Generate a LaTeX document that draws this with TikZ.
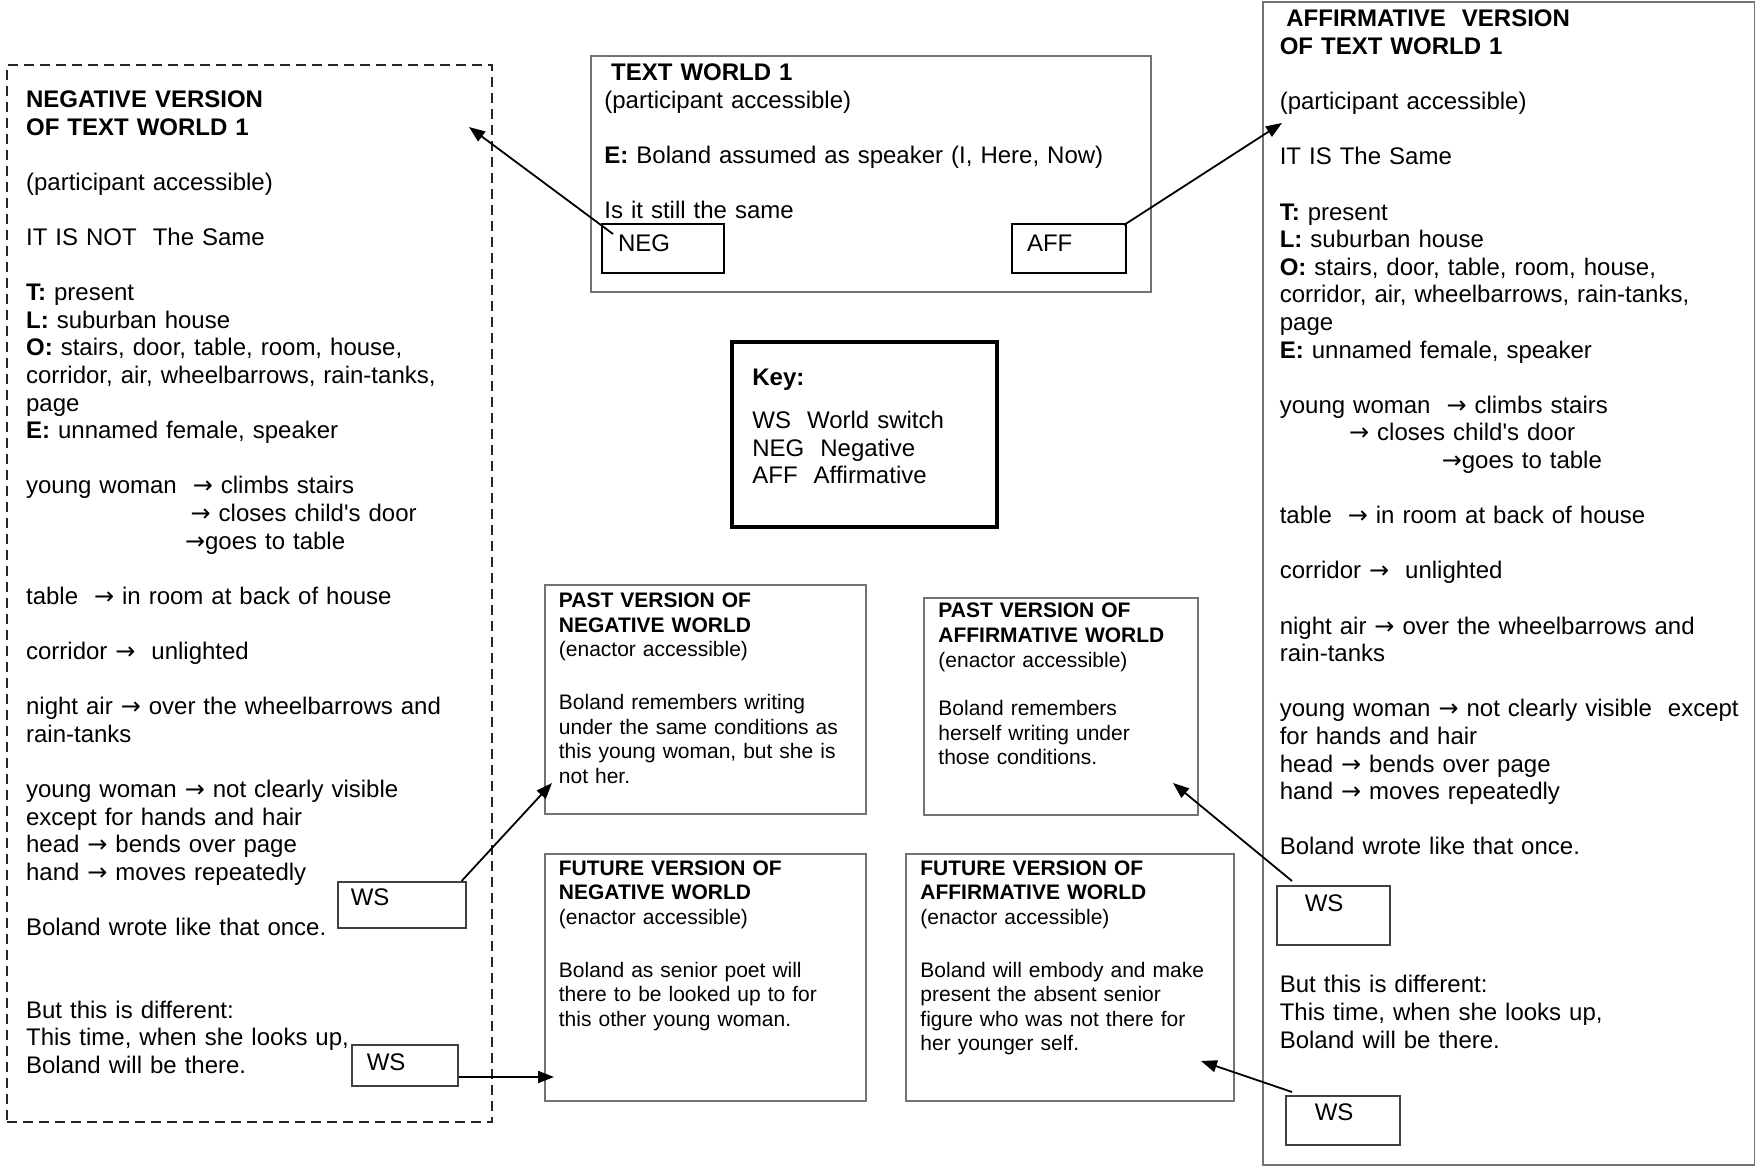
\documentclass[tikz,border=0pt]{standalone}
\usepackage{fontspec}
\setmainfont{Liberation Sans}
\newfontfamily\arrowfont{DejaVu Sans}
\usetikzlibrary{arrows.meta}

\newcommand{\skipline}{\\[13.8pt]}
\newcommand{\ra}{\makebox[10pt]{\arrowfont →}}

\tikzset{
  frame/.style={draw=black!55, line width=1pt, inner sep=0pt, anchor=north west},
  world/.style={inner sep=0pt, anchor=base west, text width=240pt, align=left,
    font=\fontsize{12}{13.8}\selectfont},
  small world/.style={world, text width=155pt, font=\fontsize{10.5}{12.3}\selectfont},
  tag/.style n args={4}{draw=black!75, line width=0.8pt, anchor=north west,
    inner ysep=0pt, inner xsep=#1, text width=#2, text height=#3, text depth=#4,
    align=left, font=\fontsize{12}{13.8}\selectfont},
  link/.style={-{Triangle[length=8pt,width=6pt]}, line width=0.9pt},
}

\begin{document}
\begin{tikzpicture}[x=0.5pt, y=-0.5pt]
  \useasboundingbox (0,0) rectangle (1755,1166);

  % frames
  \node[frame, draw=black!85, dash pattern=on 5pt off 3pt,
    minimum width=242.5pt, minimum height=528.5pt] (negf) at (6,64) {};
  \node[frame, minimum width=280pt, minimum height=118pt] (tw1f) at (590,55) {};
  \node[frame, draw=black, line width=2pt,
    minimum width=132.5pt, minimum height=92.5pt] (keyf) at (730,340) {};
  \node[frame, minimum width=160.5pt, minimum height=114.5pt] (pnegf) at (544,584) {};
  \node[frame, minimum width=137pt, minimum height=108.5pt] (pafff) at (923,597) {};
  \node[frame, minimum width=160.5pt, minimum height=123.5pt] (fnegf) at (544,853) {};
  \node[frame, minimum width=164pt, minimum height=123.5pt] (fafff) at (905,853) {};
  \node[frame, minimum width=246pt, minimum height=581.5pt] (afff) at (1262,1) {};

  % negative version
  \node[world, text width=235pt] (negt) at (25.7,107.5) {%
    \textbf{NEGATIVE VERSION}\\
    \textbf{OF TEXT WORLD 1}\skipline
    (participant accessible)\skipline
    IT IS NOT\ \ The Same\skipline
    \textbf{T:} present\\
    \textbf{L:} suburban house\\
    \textbf{O:} stairs, door, table, room, house,\\
    corridor, air, wheelbarrows, rain-tanks,\\
    page\\
    \textbf{E:} unnamed female, speaker\skipline
    young woman\ \ \ra\ climbs stairs\\
    \hspace*{82.3pt}\ra\ closes child\textquotesingle s door\\
    \hspace*{79.5pt}\ra goes to table\skipline
    table\ \ \ra\ in room at back of house\skipline
    corridor \ra\ \ unlighted\skipline
    night air \ra\ over the wheelbarrows and\\
    rain-tanks\skipline
    young woman \ra\ not clearly visible\\
    except for hands and hair\\
    head \ra\ bends over page\\
    hand \ra\ moves repeatedly\skipline
    Boland wrote like that once.\\[27.6pt]
    But this is different:\\
    This time, when she looks up,\\
    Boland will be there.};

  % text world 1
  \node[world, text width=270pt] (tw1t) at (604,80.5) {%
    \hspace*{3.4pt}\textbf{TEXT WORLD 1}\\
    (participant accessible)\skipline
    \textbf{E:} Boland assumed as speaker (I, Here, Now)\skipline
    Is it still the same};
  \node[tag={8pt}{45pt}{13.5pt}{11pt}, draw=black, line width=1pt] (negbox) at (601,223) {NEG};
  \node[tag={7.5pt}{42pt}{13.5pt}{11pt}, draw=black, line width=1pt] (affbox) at (1011,223) {AFF};

  % key
  \node[world, text width=120pt] (keyt) at (752,385) {%
    \textbf{Key:}\\[8pt]
    WS\ \ World switch\\
    NEG\ \ Negative\\
    AFF\ \ Affirmative};

  % enactor accessible worlds
  \node[small world] (pnegt) at (558.5,607.6) {%
    \textbf{PAST VERSION OF}\\
    \textbf{NEGATIVE WORLD}\\
    (enactor accessible)\\[14pt]
    Boland remembers writing\\
    under the same conditions as\\
    this young woman, but she is\\
    not her.};
  \node[small world] (pafft) at (938,617.8) {%
    \textbf{PAST VERSION OF}\\
    \textbf{AFFIRMATIVE WORLD}\\
    (enactor accessible)\\[12pt]
    Boland remembers\\
    herself writing under\\
    those conditions.};
  \node[small world] (fnegt) at (558.5,875.3) {%
    \textbf{FUTURE VERSION OF}\\
    \textbf{NEGATIVE WORLD}\\
    (enactor accessible)\\[14pt]
    Boland as senior poet will\\
    there to be looked up to for\\
    this other young woman.};
  \node[small world] (fafft) at (920,875.3) {%
    \textbf{FUTURE VERSION OF}\\
    \textbf{AFFIRMATIVE WORLD}\\
    (enactor accessible)\\[14pt]
    Boland will embody and make\\
    present the absent senior\\
    figure who was not there for\\
    her younger self.};

  % affirmative version
  \node[world, text width=235pt] (afft) at (1279.4,27) {%
    \hspace*{3.3pt}\textbf{AFFIRMATIVE\ \ VERSION}\\
    \textbf{OF TEXT WORLD 1}\skipline
    (participant accessible)\skipline
    IT IS The Same\skipline
    \textbf{T:} present\\
    \textbf{L:} suburban house\\
    \textbf{O:} stairs, door, table, room, house,\\
    corridor, air, wheelbarrows, rain-tanks,\\
    page\\
    \textbf{E:} unnamed female, speaker\skipline
    young woman\ \ \ra\ climbs stairs\\
    \hspace*{34.7pt}\ra\ closes child\textquotesingle s door\\
    \hspace*{81pt}\ra goes to table\skipline
    table\ \ \ra\ in room at back of house\skipline
    corridor \ra\ \ unlighted\skipline
    night air \ra\ over the wheelbarrows and\\
    rain-tanks\skipline
    young woman \ra\ not clearly visible\ \ except\\
    for hands and hair\\
    head \ra\ bends over page\\
    hand \ra\ moves repeatedly\skipline
    Boland wrote like that once.\\[55.2pt]
    But this is different:\\
    This time, when she looks up,\\
    Boland will be there.};

  % world switches
  \node[tag={6.5pt}{51pt}{11.75pt}{11.25pt}] (ws1) at (337,881) {WS};
  \node[tag={7.5pt}{38pt}{12.75pt}{7.75pt}] (ws2) at (351,1044) {WS};
  \node[tag={14pt}{28.5pt}{12.8pt}{16.7pt}] (ws3) at (1276,885) {WS};
  \node[tag={14.5pt}{28pt}{12.5pt}{12pt}] (ws4) at (1285,1095) {WS};

  % arrow ends
  \coordinate (negtip) at (469,127);
  \coordinate (afftip) at (1282,123);
  \coordinate (pnegtip) at (552,783);
  \coordinate (fnegtip) at (554,1077);
  \coordinate (pafftip) at (1173,783);
  \coordinate (fafftip) at (1201,1061);

  \draw[link] ([shift={(12,11)}]negbox.north west) -- (negtip);
  \draw[link] ([shift={(-3,2)}]affbox.north east) -- (afftip);
  \draw[link] ([shift={(-5,0)}]ws1.north east) -- (pnegtip);
  \draw[link] (ws2.east |- fnegtip) -- (fnegtip);
  \draw[link] ([shift={(16,-4)}]ws3.north west) -- (pafftip);
  \draw[link] ([shift={(7,-3)}]ws4.north west) -- (fafftip);
\end{tikzpicture}
\end{document}
